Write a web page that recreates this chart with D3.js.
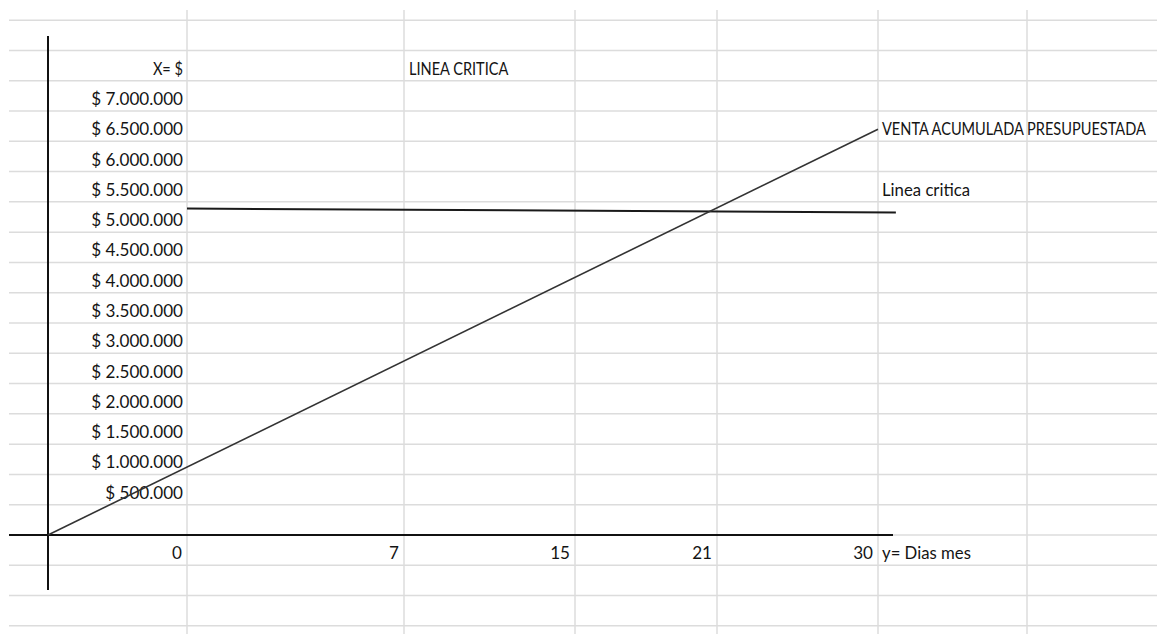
<!DOCTYPE html>
<html lang="es">
<head>
<meta charset="utf-8">
<title>Línea crítica</title>
<script src="https://cdn.jsdelivr.net/npm/d3@7"></script>
<style>
  html, body { margin: 0; padding: 0; background: #ffffff; }
  svg { display: block; }
  text { font-family: Lato, "Open Sans", sans-serif; font-size: 18px; fill: #141414; }
</style>
</head>
<body>
<svg id="hoja" width="1157" height="634"></svg>
<script>
// ---- Datos ----
const dias = [0, 7, 15, 21, 30];                       // etiquetas del eje de días
const montosEje = [500000, 1000000, 1500000, 2000000, 2500000, 3000000, 3500000,
                   4000000, 4500000, 5000000, 5500000, 6000000, 6500000, 7000000];
const ventaValores = [0, 6700000];                     // venta acumulada: origen -> día 30
const ventaDiaFinal = 30;
const criticaDias = [0, 31];                           // línea crítica
const criticaValores = [5390000, 5325000];
const tituloEjeY = "X= $";
const tituloEjeX = "y= Dias mes";
const titulo = "LINEA CRITICA";
const rotuloVenta = "VENTA ACUMULADA PRESUPUESTADA";
const rotuloCritica = "Linea critica";

// ---- Diseño de la hoja ----
const W = 1157, H = 634;
const bordeCol = [9, 187, 404, 575, 717, 878, 1027];   // bordes de columnas
const origenX = 48;                                    // eje vertical dibujado
// compresión horizontal del texto: cifras, mayúsculas, minúsculas
const condNum = 0.95, condMay = 0.81, condMin = 0.93;

const svg = d3.select("#hoja");

// escala de montos: cada fila equivale a $ 500.000
const y = d3.scaleLinear().domain([0, 7000000]).range([535, 111]);
// escala de días, por tramos según los bordes de columna
const x = d3.scaleLinear().domain(dias).range(bordeCol.slice(1, 6));

const fmt = d3.formatLocale({ decimal: ",", thousands: ".", grouping: [3], currency: ["$ ", ""] })
  .format("$,");

// cuadrícula de la hoja
const filas = d3.range(-1500000, 8500001, 500000);
const grid = svg.append("g").attr("stroke", "#dcdcdc").attr("stroke-width", 1.5);
grid.selectAll("line.f").data(filas).join("line").attr("class", "f")
  .attr("x1", bordeCol[0]).attr("x2", W)
  .attr("y1", d => y(d)).attr("y2", d => y(d));
grid.selectAll("line.c").data(bordeCol.slice(1)).join("line").attr("class", "c")
  .attr("x1", d => d).attr("x2", d => d)
  .attr("y1", 10).attr("y2", H);

// texto con compresión horizontal
function rotulo(g, px, py, txt, anchor, k) {
  g.append("text")
    .attr("transform", `translate(${px},${py}) scale(${k},1)`)
    .attr("text-anchor", anchor)
    .text(txt);
}
const textos = svg.append("g");
const off = 6;

// etiquetas del eje de montos
montosEje.forEach(v => rotulo(textos, bordeCol[1] - 4, y(v) - off, fmt(v), "end", condNum));
rotulo(textos, bordeCol[1] - 4, y(7500000) - off, tituloEjeY, "end", condMay);
rotulo(textos, bordeCol[2] + 5, y(7500000) - off, titulo, "start", condMay);

// etiquetas del eje de días
dias.forEach(d => rotulo(textos, x(d) - 5, y(-500000) - off, String(d), "end", condNum));
rotulo(textos, x(30) + 4, y(-500000) - off, tituloEjeX, "start", condMin);

// ejes
const ejes = svg.append("g").attr("stroke", "#111").attr("stroke-width", 2);
ejes.append("line").attr("x1", bordeCol[0]).attr("x2", 893).attr("y1", y(0)).attr("y2", y(0));
ejes.append("line").attr("x1", origenX).attr("x2", origenX).attr("y1", 36).attr("y2", 590);

// línea crítica
const linea = d3.line();
svg.append("path")
  .attr("d", linea(criticaDias.map((d, i) => [x(d), y(criticaValores[i])])))
  .attr("fill", "none").attr("stroke", "#1a1a1a").attr("stroke-width", 2);

// venta acumulada presupuestada
svg.append("path")
  .attr("d", linea([[origenX, y(ventaValores[0])], [x(ventaDiaFinal), y(ventaValores[1])]]))
  .attr("fill", "none").attr("stroke", "#333").attr("stroke-width", 1.6);

rotulo(textos, x(30) + 4, y(6500000) - off, rotuloVenta, "start", condMay);
rotulo(textos, x(30) + 4, y(5500000) - off, rotuloCritica, "start", condMin);
</script>
</body>
</html>
